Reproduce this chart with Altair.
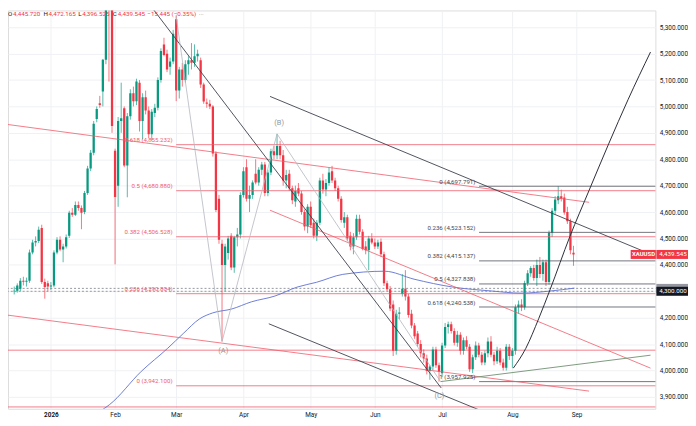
import altair as alt
import pandas as pd

# ---------------- data (prices) ----------------
FIRST_INDEX = -12  # trading-day index of first candle (0 = 2 Jan 2026)

opens = [
    # Dec
    4300, 4302, 4310, 4340, 4336, 4340, 4447, 4485, 4490, 4540, 4335, 4330,
    # Jan
    4318, 4322, 4447, 4495, 4458, 4470, 4510, 4597, 4590, 4627, 4615, 4600, 4672, 4765, 4825, 4952, 5012, 5057, 5177, 5420, 5380,
    # Feb
    4832, 4700, 4945, 4993, 4776, 4963, 5050, 5020, 5090, 4945, 5035, 4985, 4895, 4975, 4995, 5100, 5235, 5200, 5150, 5170,
    # Mar
    5330, 5060, 5140, 5100, 5160, 5175, 5165, 5190, 5175, 5083, 5015, 5010, 5000, 4822, 4650, 4480, 4400, 4445, 4510, 4390, 4505, 4515,
    # Apr
    4665, 4770, 4650, 4665, 4745, 4712, 4760, 4780, 4672, 4750, 4830, 4815, 4850, 4815, 4720, 4745, 4690, 4640, 4690, 4670, 4600, 4545,
    # May
    4620, 4560, 4510, 4560, 4720, 4685, 4710, 4755, 4720, 4690, 4650, 4560, 4580, 4510, 4470, 4505, 4575, 4525, 4470, 4455, 4500,
    # Jun
    4485, 4470, 4488, 4440, 4330, 4308, 4250, 4075, 4215, 4290, 4310, 4280, 4215, 4170, 4140, 4100, 4065, 4045, 3998, 4015, 4080, 4020,
    # Jul
    3990, 4095, 4165, 4175, 4150, 4105, 4135, 4075, 4115, 4090, 4005, 4050, 4095, 4060, 4030, 4065, 4110, 4060, 4035, 4075, 4030, 4010, 4090,
    # Aug
    4055, 4075, 4240, 4250, 4240, 4330, 4368, 4388, 4350, 4400, 4365, 4410, 4335, 4522, 4605, 4645, 4660, 4655, 4600, 4565, 4445.720,
]
highs = [
    4318, 4330, 4350, 4355, 4352, 4458, 4495, 4508, 4545, 4552, 4348, 4340,
    4335, 4455, 4505, 4508, 4480, 4515, 4605, 4615, 4640, 4640, 4625, 4680, 4775, 4835, 4945, 5000, 5040, 5180, 5450, 5590, 5450,
    4840, 4960, 5090, 5000, 4975, 5065, 5075, 5105, 5100, 5050, 5060, 5000, 4990, 5010, 5110, 5220, 5260, 5215, 5185, 5290,
    5345, 5150, 5165, 5175, 5190, 5240, 5235, 5215, 5185, 5090, 5030, 5025, 5005, 4830, 4665, 4495, 4480, 4510, 4520, 4510, 4540, 4675,
    4770, 4800, 4700, 4720, 4800, 4770, 4790, 4790, 4760, 4840, 4850, 4896, 4870, 4835, 4760, 4760, 4700, 4700, 4710, 4680, 4610, 4630,
    4640, 4575, 4570, 4730, 4745, 4725, 4770, 4775, 4730, 4700, 4660, 4600, 4590, 4525, 4520, 4590, 4590, 4535, 4490, 4510, 4520,
    4500, 4495, 4500, 4450, 4340, 4320, 4265, 4230, 4240, 4365, 4380, 4290, 4230, 4180, 4150, 4115, 4080, 4060, 4020, 4090, 4090, 4030,
    4105, 4180, 4185, 4185, 4160, 4150, 4145, 4125, 4130, 4100, 4060, 4110, 4105, 4070, 4075, 4125, 4130, 4070, 4090, 4085, 4045, 4100, 4100,
    4085, 4250, 4265, 4270, 4340, 4380, 4395, 4400, 4420, 4430, 4420, 4420, 4530, 4615, 4660, 4697.791, 4685, 4670, 4620, 4575, 4472.165,
]
lows = [
    4288, 4295, 4300, 4322, 4318, 4332, 4440, 4470, 4483, 4328, 4272, 4300,
    4305, 4315, 4440, 4452, 4410, 4462, 4502, 4582, 4585, 4605, 4535, 4592, 4665, 4755, 4815, 4940, 4995, 5000, 5160, 5094, 4900,
    4402, 4620, 4900, 4770, 4656, 4950, 5000, 5005, 4905, 4875, 4970, 4880, 4870, 4960, 4985, 5090, 5190, 5130, 5120, 5160,
    5020, 5030, 5075, 5090, 5120, 5140, 5150, 5170, 5070, 5010, 4995, 4990, 4810, 4600, 4480, 4110, 4300, 4420, 4380, 4370, 4470, 4500,
    4655, 4640, 4600, 4650, 4705, 4700, 4740, 4660, 4660, 4740, 4800, 4800, 4800, 4700, 4690, 4680, 4630, 4620, 4660, 4590, 4530, 4520,
    4540, 4500, 4490, 4550, 4670, 4660, 4700, 4710, 4680, 4640, 4560, 4540, 4490, 4455, 4440, 4495, 4515, 4455, 4440, 4380, 4478,
    4460, 4460, 4430, 4320, 4300, 4225, 4055, 4060, 4195, 4280, 4265, 4200, 4160, 4120, 4090, 4050, 4030, 3985, 3965, 4000, 4010, 3958,
    3975, 4085, 4140, 4140, 4095, 4090, 4060, 4060, 4080, 3995, 3990, 4040, 4050, 4020, 4020, 4050, 4050, 4020, 4025, 4020, 4000, 4000, 4040,
    4010, 4060, 4215, 4225, 4230, 4320, 4355, 4340, 4320, 4350, 4340, 4320, 4325, 4505, 4590, 4630, 4640, 4590, 4555, 4440, 4396.525,
]
closes = [
    4302, 4322, 4340, 4336, 4340, 4447, 4485, 4490, 4533, 4335, 4316, 4318,
    4322, 4447, 4495, 4458, 4470, 4505, 4597, 4590, 4627, 4615, 4597, 4672, 4765, 4825, 4934, 4990, 5005, 5177, 5400, 5380, 4926,
    4657, 4945, 4955, 4776, 4963, 5050, 5020, 5094, 4945, 5035, 4985, 4895, 4980, 4995, 5100, 5210, 5195, 5140, 5170, 5275,
    5060, 5140, 5100, 5160, 5175, 5165, 5190, 5200, 5083, 5019, 5010, 5000, 4822, 4608, 4495, 4400, 4470, 4500, 4390, 4505, 4515, 4665,
    4755, 4650, 4665, 4712, 4712, 4760, 4780, 4672, 4750, 4830, 4815, 4850, 4815, 4720, 4740, 4690, 4645, 4680, 4670, 4600, 4545, 4620,
    4550, 4510, 4560, 4720, 4685, 4710, 4750, 4720, 4690, 4650, 4570, 4580, 4500, 4470, 4505, 4575, 4525, 4460, 4455, 4500, 4485,
    4470, 4485, 4440, 4330, 4308, 4235, 4075, 4215, 4220, 4310, 4280, 4210, 4170, 4130, 4100, 4065, 4045, 3998, 4015, 4080, 4020, 3995,
    4095, 4165, 4175, 4150, 4105, 4135, 4075, 4115, 4090, 4005, 4050, 4095, 4060, 4030, 4065, 4110, 4060, 4035, 4075, 4030, 4010, 4090, 4055,
    4075, 4240, 4250, 4240, 4330, 4368, 4388, 4350, 4400, 4365, 4410, 4335, 4522, 4605, 4648, 4660, 4650, 4598, 4565, 4454.990, 4439.545,
]

month_index = [0, 21, 41, 63, 85, 106, 128, 151, 172]
month_label = ["2026", "Feb", "Mar", "Apr", "May", "Jun", "Jul", "Aug", "Sep"]
price_ticks = [3900, 4000, 4100, 4200, 4300, 4400, 4500, 4600, 4700,
               4800, 4900, 5000, 5100, 5200, 5300]

# moving average (blue)
ma_index = [16.9, 19.1, 29.6, 38.2, 43.3, 48.7, 52.9, 59.2, 65.6, 73.3,
            80.6, 86.9, 95.5, 109.2, 118.8, 131.5, 144.3, 153.8, 163.4, 171.3]
ma_price = [3852, 3870, 3997, 4084, 4140, 4196, 4218, 4233, 4260, 4282,
            4316, 4334, 4364, 4376, 4346, 4316, 4301, 4293, 4301, 4312]

# drawn trend lines: (start index, start price, end index, end price)
black_trend = [(26.4, 5476, 127.7, 3934),
               (71.3, 4177, 140.1, 3851),
               (71.7, 5038, 194.3, 4450)]
red_trend = [(-15.0, 4933, 176.1, 4637),
             (-15.0, 4211, 176.1, 3922),
             (71.7, 4607, 196.2, 4009)]
green_trend = [(127.5, 3957.925, 196.2, 4058)]

# ABC wave
wave_index = [41, 56, 74, 127.5]
wave_price = [5340, 4110, 4896, 3957.925]
wave_label = ["(A)", "(B)", "(C)"]
wave_label_index = [56.4, 74.7, 127.1]
wave_label_price = [4072, 4937, 3904]

# curved black projection
arc_index = [151.3, 155.4, 159.6, 163.4, 169.8, 176.1, 182.5, 188.9, 196.2]
arc_price = [4009, 4084, 4196, 4308, 4507, 4682, 4858, 5027, 5206]

# Fibonacci retracements
red_fib_level = ["0.618", "0.5", "0.382", "0.236", "0"]
red_fib_price = [4855.232, 4680.880, 4506.528, 4290.804, 3942.100]
red_fib_start = 41
black_fib_level = ["0", "0.236", "0.382", "0.5", "0.618", "1"]
black_fib_price = [4697.791, 4523.152, 4415.137, 4327.838, 4240.538, 3957.925]
black_fib_start = 140.1

red_levels = [4077, 3862]
dotted_levels = [4311, 4300]
symbol = "XAUUSD"

# ---------------- layout / style ----------------
X_MIN, X_MAX = -12.42, 196.18
Y_MIN, Y_MAX = 3855.2, 5363.6
W, H = 655, 403
GREEN, RED = "#089981", "#f23645"
FIB_RED = "#ef5b6b"
DARK = "#131722"
GRID = "#f0f1f4"
FS = 6.5

xscale = alt.Scale(domain=[X_MIN, X_MAX], nice=False, zero=False)
yscale = alt.Scale(domain=[Y_MIN, Y_MAX], nice=False, zero=False)
label_expr = "".join(f"datum.value == {v} ? '{t}' : " for v, t in zip(month_index, month_label)) + "''"
xaxis = alt.Axis(values=month_index, labelExpr=label_expr, grid=True, gridColor=GRID,
                 ticks=False, domain=False, labelFontSize=FS, labelColor=DARK,
                 labelPadding=3, labelOverlap=False, labelFlush=False,
                 labelFontWeight={"condition": {"test": "datum.value == 0", "value": "bold"},
                                  "value": "normal"})
yaxis = alt.Axis(orient="right", values=price_ticks, format=",.3f", grid=True, gridColor=GRID,
                 ticks=False, domain=False, labelFontSize=FS, labelColor=DARK,
                 labelPadding=4, labelOverlap=False, labelFlush=False)


def X(field="i"):
    return alt.X(f"{field}:Q", scale=xscale, axis=xaxis, title=None)


def Y(field="p"):
    return alt.Y(f"{field}:Q", scale=yscale, axis=yaxis, title=None)


def seg_df(segs, prefix):
    rows = []
    for k, (a, b, c, d) in enumerate(segs):
        rows.append({"name": f"{prefix}{k}", "i": a, "p": b, "o": 0})
        rows.append({"name": f"{prefix}{k}", "i": c, "p": d, "o": 1})
    return pd.DataFrame(rows)


def lines(df, color, width=0.9, dash=None, interp="linear", opacity=1.0):
    kw = dict(clip=True, color=color, strokeWidth=width, interpolate=interp, opacity=opacity)
    if dash:
        kw["strokeDash"] = dash
    return alt.Chart(df).mark_line(**kw).encode(
        x=X(), y=Y(), detail="name:N", order="o:Q")


layers = []

# horizontal full-width lines
layers.append(lines(seg_df([(X_MIN - 2, v, X_MAX + 2, v) for v in red_levels], "rl"), FIB_RED, 0.8))
layers.append(lines(seg_df([(X_MIN - 2, v, X_MAX + 2, v) for v in dotted_levels], "dl"),
                    "#8a8d96", 0.9, dash=[2, 2]))

# candles
n = len(closes)
cdf = pd.DataFrame({"i": list(range(FIRST_INDEX, FIRST_INDEX + n)),
                    "o": opens, "h": highs, "l": lows, "c": closes})
ccol = alt.condition("datum.c >= datum.o", alt.value(GREEN), alt.value(RED))
layers.append(alt.Chart(cdf).mark_rule(clip=True, strokeWidth=0.8, opacity=0.85).encode(
    x=X(), y=Y("l"), y2="h:Q", color=ccol))
layers.append(alt.Chart(cdf).mark_bar(clip=True, size=2.3).encode(
    x=X(), y=Y("o"), y2="c:Q", color=ccol))

# fib lines
layers.append(lines(seg_df([(red_fib_start, v, X_MAX + 2, v) for v in red_fib_price], "rf"), FIB_RED, 0.8))
layers.append(lines(seg_df([(black_fib_start, v, X_MAX + 2, v) for v in black_fib_price], "bf"), "#50535e", 0.8))

# moving average
layers.append(lines(pd.DataFrame({"name": "ma", "i": ma_index, "p": ma_price,
                                  "o": list(range(len(ma_index)))}), "#5c6fd1", 0.9, interp="monotone"))

# trend lines
layers.append(lines(seg_df(red_trend, "rt"), FIB_RED, 0.8))
layers.append(lines(seg_df(black_trend, "bt"), "#3b3f4a", 0.9))
layers.append(lines(seg_df(green_trend, "gt"), "#6f8f70", 0.9))
layers.append(lines(pd.DataFrame({"name": "w", "i": wave_index, "p": wave_price,
                                  "o": list(range(len(wave_index)))}), "#b4b7bf", 0.8))
layers.append(lines(pd.DataFrame({"name": "arc", "i": arc_index, "p": arc_price,
                                  "o": list(range(len(arc_index)))}), "#2a2e39", 1.0, interp="monotone"))

# wave labels
layers.append(alt.Chart(pd.DataFrame({"t": wave_label, "i": wave_label_index, "p": wave_label_price}))
              .mark_text(fontSize=7.5, color="#9598a1", baseline="middle", align="center")
              .encode(x=X(), y=Y(), text="t:N"))

# fib labels
rf_lab = pd.DataFrame({"t": [f"{l} ({p:,.3f})" for l, p in zip(red_fib_level, red_fib_price)],
                       "i": red_fib_start - 1.2, "p": red_fib_price})
bf_lab = pd.DataFrame({"t": [f"{l} ({p:,.3f})" for l, p in zip(black_fib_level, black_fib_price)],
                       "i": black_fib_start - 1.2, "p": black_fib_price})
layers.append(alt.Chart(rf_lab).mark_text(fontSize=6.2, color=FIB_RED, align="right",
                                          baseline="bottom", dy=-1.5)
              .encode(x=X(), y=Y(), text="t:N"))
layers.append(alt.Chart(bf_lab).mark_text(fontSize=6.2, color="#434651", align="right",
                                          baseline="bottom", dy=-1.5)
              .encode(x=X(), y=Y(), text="t:N"))

# price tags on the right axis
last_close = closes[-1]
tags = pd.DataFrame({"p": [dotted_levels[0], dotted_levels[1], last_close],
                     "t": ["", f"{dotted_levels[1]:,.3f}", f"{last_close:,.3f}"],
                     "fill": ["#9598a1", "#131722", RED]})
tag_h = 17
layers.append(alt.Chart(tags).transform_calculate(y1=f"datum.p - {tag_h}", y2=f"datum.p + {tag_h}")
              .mark_rect().encode(x=alt.value(656), x2=alt.value(688), y=Y("y1"), y2="y2:Q",
                                  color=alt.Color("fill:N", scale=None)))
layers.append(alt.Chart(tags).mark_text(fontSize=6.3, color="white", align="left", baseline="middle")
              .encode(x=alt.value(659), y=Y(), text="t:N"))
sym = pd.DataFrame({"p": [last_close], "t": [symbol]})
layers.append(alt.Chart(sym).transform_calculate(y1=f"datum.p - {tag_h}", y2=f"datum.p + {tag_h}")
              .mark_rect(color=RED).encode(x=alt.value(630), x2=alt.value(655.5), y=Y("y1"), y2="y2:Q"))
layers.append(alt.Chart(sym).mark_text(fontSize=6.0, color="white", align="center", baseline="middle",
                                       fontWeight="bold")
              .encode(x=alt.value(643), y=Y(), text="t:N"))

# OHLC header
chg = closes[-1] - closes[-2]
pct = chg / closes[-2] * 100
header = [("O", 0, DARK), (f"{opens[-1]:,.3f}", 5, RED),
          ("H", 36, DARK), (f"{highs[-1]:,.3f}", 41, RED),
          ("L", 71, DARK), (f"{lows[-1]:,.3f}", 75, RED),
          ("C", 106, DARK), (f"{closes[-1]:,.3f}", 111, RED),
          (f"{chg:,.3f} ({pct:.2f}%)".replace("-", "\u2212"), 141, RED),
          ("\u00b7\u00b7\u00b7", 193, "#787b86")]
for txt, px, col in header:
    layers.append(alt.Chart(pd.DataFrame({"t": [txt]})).mark_text(
        fontSize=6.3, color=col, align="left", baseline="middle").encode(
        x=alt.value(px), y=alt.value(3.5), text="t:N"))

chart = alt.layer(*layers).properties(
    width=W, height=H,
    padding={"left": 0, "top": 0, "right": 33, "bottom": 15},
    autosize=alt.AutoSizeParams(type="none"),
    background="white",
).configure_view(stroke=None).configure(font="Roboto")

chart.save("out.html", embed_options={"renderer": "svg", "actions": False})
